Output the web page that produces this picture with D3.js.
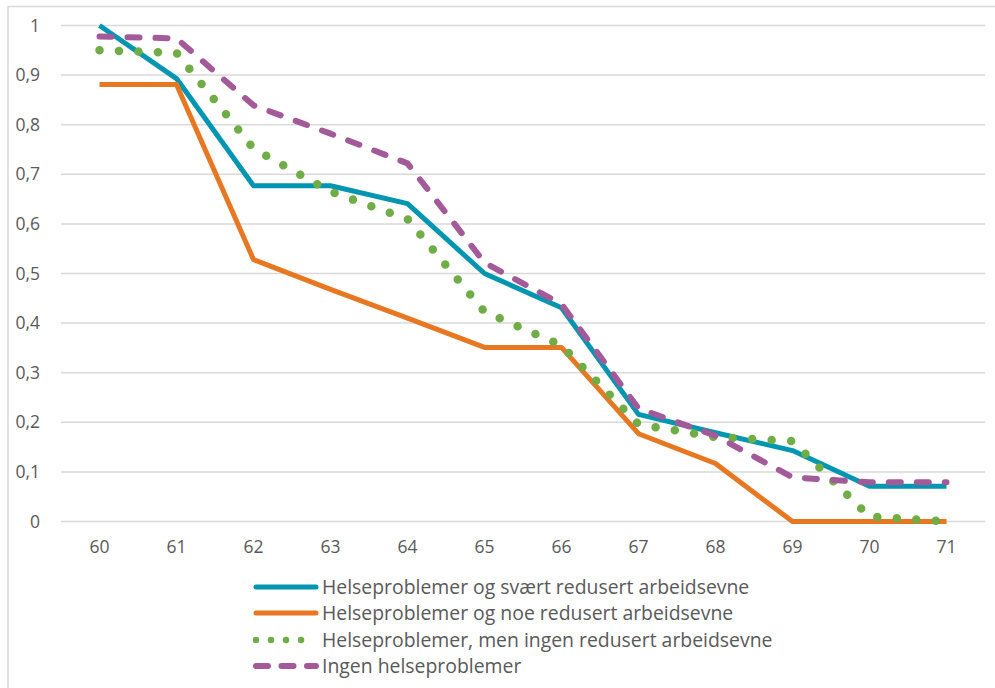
<!DOCTYPE html>
<html>
<head>
<meta charset="utf-8">
<script src="https://cdn.jsdelivr.net/npm/d3@7"></script>
<style>
  html, body { margin: 0; padding: 0; background: #fff; }
  svg { display: block; }
  text { font-family: "Open Sans", Lato, sans-serif; fill: #595959; }
</style>
</head>
<body>
<svg id="chart" width="995" height="688"></svg>
<script>
// Age categories on the x axis
const ages = ["60", "61", "62", "63", "64", "65", "66", "67", "68", "69", "70", "71"];

// Share still employed, by health status
const svaertRedusert = [1.0, 0.893, 0.677, 0.677, 0.641, 0.500, 0.431, 0.216, 0.179, 0.143, 0.071, 0.071];
const noeRedusert    = [0.881, 0.881, 0.528, 0.468, 0.410, 0.351, 0.351, 0.177, 0.117, 0, 0, 0];
const ingenRedusert  = [0.950, 0.945, 0.752, 0.665, 0.610, 0.423, 0.355, 0.196, 0.170, 0.162, 0.010, 0];
const ingenHelse     = [0.978, 0.974, 0.839, 0.782, 0.722, 0.522, 0.438, 0.228, 0.173, 0.089, 0.079, 0.079];

const seriesNames = [
  "Helseproblemer og svært redusert arbeidsevne",
  "Helseproblemer og noe redusert arbeidsevne",
  "Helseproblemer, men ingen redusert arbeidsevne",
  "Ingen helseproblemer"
];

const yTicks = [0, 0.1, 0.2, 0.3, 0.4, 0.5, 0.6, 0.7, 0.8, 0.9, 1];

const styles = [
  { color: "#0096B1", width: 5, dash: null, cap: "butt" },
  { color: "#E87722", width: 5, dash: null, cap: "butt" },
  { color: "#70AD47", width: 8.5, dash: "0 19.5", cap: "round" },
  { color: "#A25A98", width: 6, dash: "12 16", cap: "round" }
];

const series = [svaertRedusert, noeRedusert, ingenRedusert, ingenHelse].map((values, i) => ({
  name: seriesNames[i], values, style: styles[i]
}));

const svg = d3.select("#chart");

// Outer chart frame
svg.append("rect")
  .attr("x", 8).attr("y", 6.5)
  .attr("width", 1000).attr("height", 700)
  .attr("fill", "none").attr("stroke", "#D9D9D9").attr("stroke-width", 1.5);

const plot = { left: 61, right: 985, top: 25.5, bottom: 521.5 };

const x = d3.scaleBand().domain(ages).range([plot.left, plot.right]);
const y = d3.scaleLinear().domain([0, 1]).range([plot.bottom, plot.top]);

// Horizontal gridlines
svg.append("g")
  .selectAll("line")
  .data(yTicks)
  .join("line")
  .attr("x1", plot.left).attr("x2", plot.right)
  .attr("y1", d => y(d)).attr("y2", d => y(d))
  .attr("stroke", "#D9D9D9").attr("stroke-width", 1.5);

// Y axis labels
const fmt = d => d === 0 ? "0" : d === 1 ? "1" : d3.format(".1f")(d).replace(".", ",");
const yAxis = svg.append("g")
  .attr("transform", `translate(${plot.left - 19},0)`)
  .call(d3.axisLeft(y).tickValues(yTicks).tickFormat(fmt).tickSize(0).tickPadding(2));
yAxis.select(".domain").remove();
yAxis.selectAll("text")
  .attr("font-size", 17.5).attr("fill", "#595959")
  .style("font-family", '"Open Sans", Lato, sans-serif');

// X axis labels
const xAxis = svg.append("g")
  .attr("transform", `translate(0,${plot.bottom})`)
  .call(d3.axisBottom(x).tickSize(0).tickPadding(19));
xAxis.select(".domain").remove();
xAxis.selectAll("text")
  .attr("font-size", 17.5).attr("fill", "#595959")
  .style("font-family", '"Open Sans", Lato, sans-serif');

// Series lines
const line = d3.line()
  .x((d, i) => x(ages[i]) + x.bandwidth() / 2)
  .y(d => y(d));

svg.append("g")
  .selectAll("path")
  .data(series)
  .join("path")
  .attr("d", d => line(d.values))
  .attr("fill", "none")
  .attr("stroke", d => d.style.color)
  .attr("stroke-width", d => d.style.width)
  .attr("stroke-linejoin", "round")
  .attr("stroke-linecap", d => d.style.cap)
  .attr("stroke-dasharray", d => d.style.dash);

// Legend
const legend = svg.append("g").attr("transform", "translate(256,0)");
const rowY = [587, 613, 640, 666];
const rows = legend.selectAll("g")
  .data(series)
  .join("g")
  .attr("transform", (d, i) => `translate(0,${rowY[i]})`);

rows.append("line")
  .attr("x1", 0).attr("x2", 60)
  .attr("y1", 0).attr("y2", 0)
  .attr("stroke", d => d.style.color)
  .attr("stroke-width", (d, i) => i === 2 ? 6.5 : d.style.width)
  .attr("stroke-linecap", "round")
  .attr("stroke-dasharray", (d, i) => i === 2 ? "0 15" : i === 3 ? "12 13.5" : null);

rows.append("text")
  .attr("x", 66)
  .attr("dy", "0.35em")
  .attr("font-size", 19.4)
  .text(d => d.name);
</script>
</body>
</html>
